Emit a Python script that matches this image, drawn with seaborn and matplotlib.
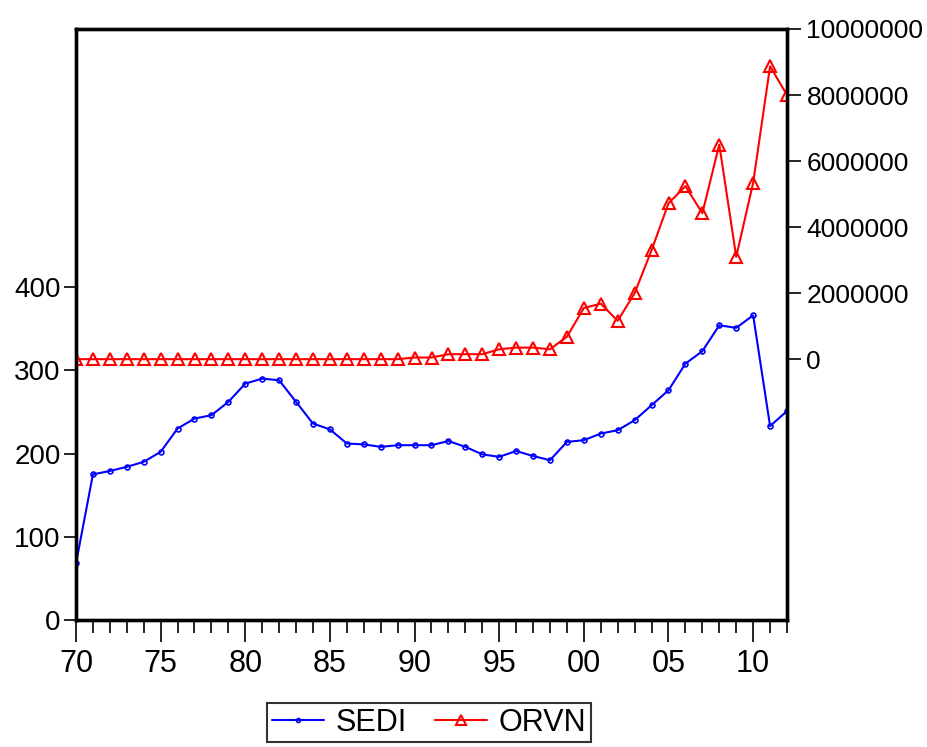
import matplotlib
matplotlib.use("Agg")
import matplotlib.pyplot as plt
import pandas as pd
import seaborn as sns
from matplotlib.ticker import FixedLocator, MultipleLocator, FuncFormatter

# Annual series, 1970-2012
years = list(range(1970, 2013))
sedi = [68, 175, 179, 184, 190, 202, 230, 242, 246, 262,
        284, 290, 288, 262, 236, 229, 212, 211, 208, 210,
        210, 210, 215, 208, 199, 196, 203, 197, 192, 214,
        216, 224, 228, 240, 258, 276, 308, 323, 354, 351,
        366, 233, 251]
orvn = [0, 0, 0, 0, 0, 0, 0, 0, 0, 0,
        0, 0, 0, 0, 0, 0, 0, 0, 0, 0,
        50000, 50000, 150000, 150000, 150000, 300000, 350000, 350000, 300000, 680000,
        1550000, 1680000, 1160000, 2000000, 3300000, 4720000, 5240000, 4420000, 6500000, 3100000,
        5340000, 8870000, 8000000]

left_ticks = [0, 100, 200, 300, 400]
right_ticks = [0, 2000000, 4000000, 6000000, 8000000, 10000000]
x_ticks = [1970, 1975, 1980, 1985, 1990, 1995, 2000, 2005, 2010]
x_labels = ["70", "75", "80", "85", "90", "95", "00", "05", "10"]

df = pd.DataFrame({"year": years, "SEDI": sedi, "ORVN": orvn})

sns.set_theme(style="ticks")
plt.rcParams["font.family"] = ["Liberation Sans", "DejaVu Sans"]
plt.rcParams["text.color"] = "black"
plt.rcParams["xtick.color"] = "black"
plt.rcParams["ytick.color"] = "black"

W, H = 927, 747
fig = plt.figure(figsize=(W / 100, H / 100), dpi=100)
ax = fig.add_axes([76 / W, 1 - 620 / H, (787 - 76) / W, (620 - 29) / H])

sns.lineplot(data=df, x="year", y="SEDI", ax=ax, color="#0000ff", lw=1.5,
             marker="o", markersize=3.5, markerfacecolor="none",
             markeredgecolor="#0000ff", markeredgewidth=1.2, legend=False)

ax2 = ax.twinx()
sns.lineplot(data=df, x="year", y="ORVN", ax=ax2, color="#ff0000", lw=1.5,
             marker="^", markersize=8.5, markerfacecolor="none",
             markeredgecolor="#ff0000", markeredgewidth=1.5, legend=False)

# X axis
ax.set_xlim(1970, 2012)
ax.xaxis.set_major_locator(FixedLocator(x_ticks))
ax.set_xticklabels(x_labels)
ax.xaxis.set_minor_locator(MultipleLocator(1))
ax.tick_params(axis="x", which="major", length=16, width=1.2, colors="black",
               labelsize=22, pad=5, direction="out")
ax.tick_params(axis="x", which="minor", length=9, width=1.2, colors="black",
               direction="out", bottom=True)

# Left axis
ax.set_ylim(0, 710)
ax.yaxis.set_major_locator(FixedLocator(left_ticks))
ax.tick_params(axis="y", which="major", length=9, width=1.2, colors="black",
               labelsize=20, pad=2, direction="out", left=True)

# Right axis
ax2.set_ylim(-7.9e6, 10e6)
ax2.yaxis.set_major_locator(FixedLocator(right_ticks))
ax2.yaxis.set_major_formatter(FuncFormatter(lambda v, p: f"{int(round(v))}"))
ax2.tick_params(axis="y", which="major", length=10, width=1.2, colors="black",
                labelsize=19, pad=4, direction="out", right=True)

for a in (ax, ax2):
    a.set_xlabel("")
    a.set_ylabel("")
    for s in a.spines.values():
        s.set_visible(True)
        s.set_color("black")
        s.set_linewidth(2.4)
    a.grid(False)

# Legend at the bottom, centred under the plot
h1 = ax.get_lines()[0]
h2 = ax2.get_lines()[0]
leg = fig.legend([h1, h2], ["SEDI", "ORVN"], loc="upper center",
                 bbox_to_anchor=(429 / W, 1 - 703 / H), ncol=2, frameon=True,
                 fancybox=False, edgecolor="black", fontsize=22,
                 handlelength=1.7, handletextpad=0.4, columnspacing=0.9,
                 borderpad=0.15, borderaxespad=0.0, markerscale=0.8,
                 labelcolor="black")
leg.get_frame().set_linewidth(1.5)
leg.get_frame().set_edgecolor("black")

fig.savefig("out.png", dpi=100)
